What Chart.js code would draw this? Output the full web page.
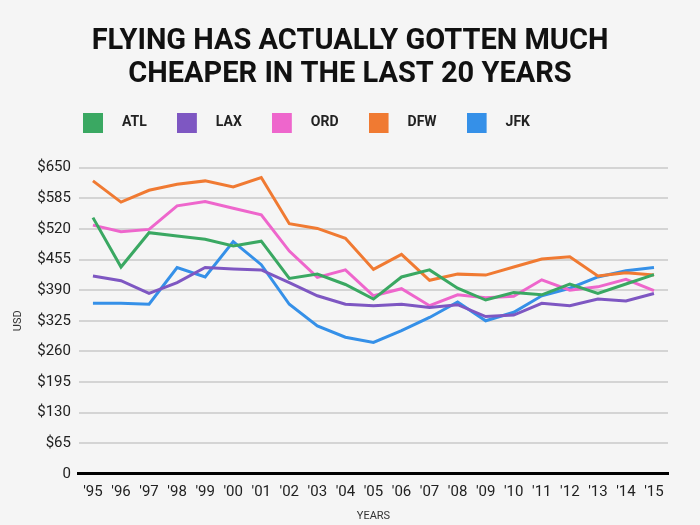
<!DOCTYPE html>
<html>
<head>
<meta charset="utf-8">
<script src="https://cdn.jsdelivr.net/npm/chart.js@4"></script>
<style>
  html, body { margin: 0; padding: 0; background: #f5f5f5; }
</style>
</head>
<body>
<canvas id="chart" width="700" height="525"></canvas>
<script>
'use strict';

let years = ["'95", "'96", "'97", "'98", "'99", "'00", "'01", "'02", "'03", "'04", "'05",
  "'06", "'07", "'08", "'09", "'10", "'11", "'12", "'13", "'14", "'15"];

let atl = [544, 439, 512, 505, 498, 484, 494, 415, 424, 402, 371, 418, 433, 394, 369, 385, 380, 403, 383, 403, 423];
let lax = [420, 410, 383, 406, 438, 435, 433, 406, 378, 360, 357, 360, 353, 359, 334, 337, 362, 357, 371, 367, 383];
let ord = [528, 514, 519, 569, 578, 564, 550, 473, 417, 433, 378, 393, 357, 380, 374, 377, 412, 390, 397, 413, 389];
let dfw = [622, 577, 602, 615, 622, 609, 629, 531, 521, 500, 434, 466, 411, 424, 422, 439, 456, 461, 420, 427, 422];
let jfk = [362, 362, 360, 438, 418, 493, 444, 360, 314, 290, 279, 304, 332, 365, 325, 343, 378, 394, 418, 431, 438];

let titleLines = ['FLYING HAS ACTUALLY GOTTEN MUCH', 'CHEAPER IN THE LAST 20 YEARS'];

// legend swatch: square on the left, blank space after it
function swatch(color) {
  let c = document.createElement('canvas');
  c.width = 32;
  c.height = 20;
  let ctx = c.getContext('2d');
  ctx.fillStyle = color;
  ctx.fillRect(0, 0, 20, 20);
  return c;
}

function series(label, values, color) {
  return {
    label: label,
    data: values,
    borderColor: color,
    backgroundColor: color,
    borderWidth: 3,
    pointRadius: 0,
    pointHoverRadius: 0,
    pointStyle: swatch(color),
    tension: 0,
    fill: false
  };
}

let legendNudge = {
  id: 'legendNudge',
  afterLayout(chart) {
    chart.titleBlock.left = 0;
    chart.titleBlock.right = chart.width;
    chart.legend.left = 83 - 30;
    chart.legend.top -= 28;
  }
};

let canvasElem = document.getElementById('chart');

new Chart(canvasElem, {
  type: 'line',
  data: {
    labels: years,
    datasets: [
      series('ATL', atl, '#3aa862'),
      series('LAX', lax, '#7e57c2'),
      series('ORD', ord, '#ee66cc'),
      series('DFW', dfw, '#f07a32'),
      series('JFK', jfk, '#3590e8')
    ]
  },
  options: {
    responsive: false,
    animation: false,
    events: [],
    layout: { padding: { left: 8, right: 32, top: 0, bottom: 2 } },
    plugins: {
      title: {
        display: true,
        text: titleLines,
        color: '#111',
        font: { family: 'Roboto', size: 29, weight: 'bold', lineHeight: 1.15 },
        padding: { top: 25, bottom: 22 }
      },
      legend: {
        align: 'start',
        labels: {
          usePointStyle: true,
          pointStyleWidth: 32,
          padding: 30,
          color: '#222',
          font: { family: 'Roboto', size: 14, weight: 'bold' }
        }
      },
      tooltip: { enabled: false }
    },
    scales: {
      x: {
        offset: true,
        grid: { drawOnChartArea: false, drawTicks: false },
        border: { display: true, color: '#000', width: 3 },
        ticks: {
          autoSkip: false,
          maxRotation: 0,
          padding: 9,
          color: '#222',
          font: { family: 'Roboto', size: 15 }
        },
        title: {
          display: true,
          text: 'YEARS',
          color: '#333',
          font: { family: 'Roboto', size: 11 },
          padding: { top: 0, bottom: 0 }
        }
      },
      y: {
        min: 0,
        max: 650,
        border: { display: false },
        grid: { color: '#d4d4d4', lineWidth: 2, drawTicks: false },
        ticks: {
          stepSize: 65,
          padding: 8,
          color: '#222',
          font: { family: 'Roboto', size: 15 },
          callback: value => value === 0 ? '0' : '$' + value
        },
        title: {
          display: true,
          text: 'USD',
          color: '#333',
          font: { family: 'Roboto', size: 11 },
          padding: 4
        }
      }
    }
  },
  plugins: [legendNudge]
});
</script>
</body>
</html>
